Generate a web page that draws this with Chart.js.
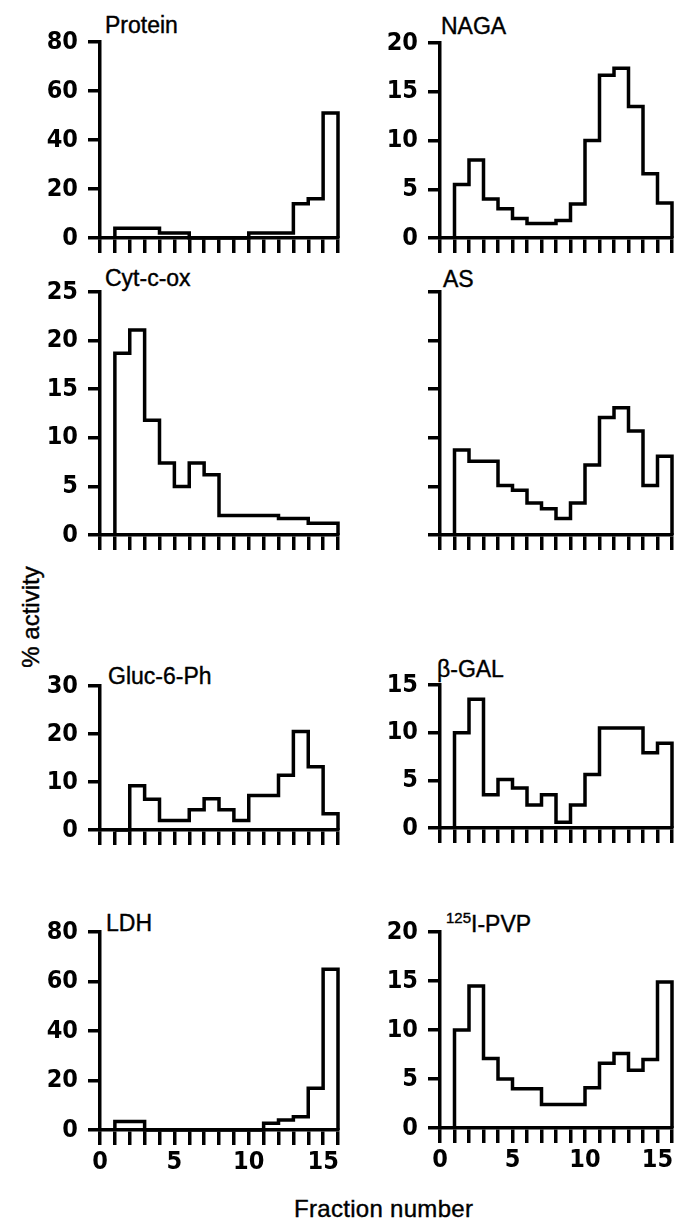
<!DOCTYPE html>
<html lang="en">
<head>
  <meta charset="UTF-8" />
  <title>% activity by fraction number</title>
  <style>
    body {
      margin: 0;
      width: 674px;
      height: 1222px;
      overflow: hidden;
      position: relative;
      background: #fff;
      color: #000;
      font-family: "Liberation Sans", Arial, sans-serif;
    }
    canvas { position: absolute; }
    .name {
      position: absolute;
      font-size: 23px;
      line-height: 1;
      white-space: nowrap;
      -webkit-text-stroke: 0.4px #000;
    }
    .name sup { font-size: 15px; vertical-align: 9px; }
    .ylabel {
      position: absolute;
      left: 31px;
      top: 617px;
      font-size: 24px;
      line-height: 1;
      white-space: nowrap;
      -webkit-text-stroke: 0.4px #000;
      transform: translate(-50%, -50%) rotate(-90deg);
    }
    .xlabel {
      position: absolute;
      left: 294px;
      top: 1197px;
      font-size: 24px;
      line-height: 1;
      letter-spacing: 0.3px;
      white-space: nowrap;
      -webkit-text-stroke: 0.4px #000;
    }
  </style>
</head>
<body>
  <div class="name" style="left:105px; top:14px;">Protein</div>
  <div class="name" style="left:441px; top:15px;">NAGA</div>
  <div class="name" style="left:105px; top:267px;">Cyt-c-ox</div>
  <div class="name" style="left:443px; top:268px;">AS</div>
  <div class="name" style="left:108px; top:665px;">Gluc-6-Ph</div>
  <div class="name" style="left:437px; top:658px;">&beta;-GAL</div>
  <div class="name" style="left:106px; top:912px;">LDH</div>
  <div class="name" style="left:446px; top:910px;"><sup>125</sup>I-PVP</div>
  <div class="ylabel">% activity</div>
  <div class="xlabel">Fraction number</div>

  <script src="https://cdn.jsdelivr.net/npm/chart.js"></script>
  <script>
    // fraction numbers (each bar spans [n, n+1])
    const fractions = [1, 2, 3, 4, 5, 6, 7, 8, 9, 10, 11, 12, 13, 14, 15];
    const xTickLabels = [0, 5, 10, 15];

    // % activity per fraction
    const protein = [4, 4, 4, 2, 2, 0, 0, 0, 0, 2, 2, 2, 14, 16, 51];
    const naga    = [5.5, 8, 4, 3, 2, 1.5, 1.5, 1.8, 3.5, 10, 16.7, 17.4, 13.5, 6.6, 3.6];
    const cytCOx  = [18.7, 21.1, 11.8, 7.4, 5, 7.4, 6.2, 2, 2, 2, 2, 1.7, 1.7, 1.2, 1.2];
    const as      = [8.75, 7.6, 7.6, 5.1, 4.6, 3.3, 2.7, 1.7, 3.3, 7.2, 12.1, 13.1, 10.7, 5.1, 8.1];
    const gluc6Ph = [0, 9.2, 6.4, 2, 2, 4.2, 6.5, 4.2, 2, 7.2, 7.2, 11.4, 20.5, 13.2, 3.4];
    const betaGal = [10, 13.5, 3.5, 5.1, 4.2, 2.4, 3.5, 0.6, 2.4, 5.6, 10.5, 10.5, 10.5, 7.9, 8.9];
    const ldh     = [3.4, 3.4, 0, 0, 0, 0, 0, 0, 0, 0, 2.7, 4, 5.4, 16.9, 64.9];
    const pvp     = [10, 14.5, 7.1, 5, 4, 4, 2.4, 2.4, 2.4, 4.1, 6.6, 7.6, 5.9, 7, 14.9];

    // y axis ranges
    const yMax  = { protein: 80, naga: 20, cyt: 25, as: 25, gluc: 30, gal: 15, ldh: 80, pvp: 20 };
    const yStep = { protein: 20, naga: 5, cyt: 5, as: 5, gluc: 10, gal: 5, ldh: 20, pvp: 5 };

    // panel placement: column, plot top and bottom (px)
    const panels = [
      { key: 'protein', values: protein, col: 0, top: 42,  bottom: 243 },
      { key: 'naga',    values: naga,    col: 1, top: 43,  bottom: 243 },
      { key: 'cyt',     values: cytCOx,  col: 0, top: 292, bottom: 540 },
      { key: 'as',      values: as,      col: 1, top: 292, bottom: 540, noYLabels: true },
      { key: 'gluc',    values: gluc6Ph, col: 0, top: 686, bottom: 835 },
      { key: 'gal',     values: betaGal, col: 1, top: 685, bottom: 833 },
      { key: 'ldh',     values: ldh,     col: 0, top: 932, bottom: 1130, xLabels: true },
      { key: 'pvp',     values: pvp,     col: 1, top: 932, bottom: 1128, xLabels: true }
    ];

    const colLeft = [0, 340];
    const colWidth = [345, 334];
    const colPadRight = [7, 1];
    const padTop = 30;
    const tickFont = {
      family: '"Liberation Sans Narrow", "DejaVu Sans Condensed", "Liberation Sans", Arial, sans-serif',
      size: 25,
      weight: 'bold'
    };

    panels.forEach(p => {
      const xH = p.xLabels ? 50 : 20;
      const canvas = document.createElement('canvas');
      canvas.width = colWidth[p.col];
      canvas.height = (p.bottom - p.top) + padTop + xH;
      canvas.style.left = colLeft[p.col] + 'px';
      canvas.style.top = (p.top - padTop) + 'px';
      document.body.appendChild(canvas);

      // histogram outline: rise at first fraction, step across, drop after last
      const pts = [{ x: fractions[0], y: 0 }];
      p.values.forEach((v, i) => pts.push({ x: fractions[i], y: v }));
      pts.push({ x: fractions[fractions.length - 1] + 1, y: 0 });

      new Chart(canvas.getContext('2d'), {
        type: 'line',
        data: {
          datasets: [{
            data: pts,
            stepped: 'before',
            borderColor: '#000',
            borderWidth: 3.5,
            borderJoinStyle: 'miter',
            pointRadius: 0,
            fill: false,
            clip: false
          }]
        },
        options: {
          responsive: false,
          devicePixelRatio: 1,
          animation: false,
          layout: { padding: { top: padTop, right: colPadRight[p.col], left: 0, bottom: 0 } },
          plugins: { legend: { display: false }, tooltip: { enabled: false } },
          scales: {
            x: {
              type: 'linear',
              min: 0,
              max: 16,
              ticks: {
                stepSize: 1,
                autoSkip: false,
                maxRotation: 0,
                color: '#000',
                font: tickFont,
                padding: 2,
                callback: v => (p.xLabels && xTickLabels.includes(v)) ? String(v) : ''
              },
              grid: { drawOnChartArea: false, tickLength: 15, lineWidth: 3.5, color: '#000' },
              border: { display: true, width: 3.5, color: '#000' },
              afterFit: s => { s.height = xH; }
            },
            y: {
              type: 'linear',
              min: 0,
              max: yMax[p.key],
              ticks: {
                stepSize: yStep[p.key],
                color: '#000',
                font: tickFont,
                padding: 10,
                callback: v => p.noYLabels ? '' : String(v)
              },
              grid: { drawOnChartArea: false, tickLength: 12, lineWidth: 3.5, color: '#000' },
              border: { display: true, width: 3.5, color: '#000' },
              afterFit: s => { s.width = 100; }
            }
          }
        }
      });
    });
  </script>
</body>
</html>
